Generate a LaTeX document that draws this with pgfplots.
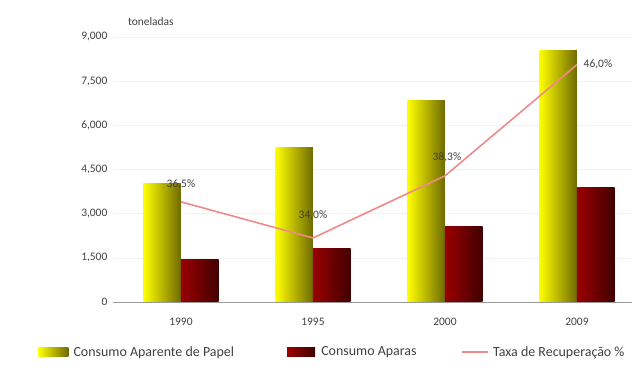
\documentclass[border=0pt]{standalone}
\usepackage{pgfplots}
\usepackage{pgfplotstable}
\pgfplotsset{compat=1.18}
\usepackage{fontspec}
\setmainfont{Carlito}
\definecolor{yelL}{HTML}{FFFF00}
\definecolor{yelM}{HTML}{E6E600}
\definecolor{yelR}{HTML}{6E6A00}
\definecolor{redL}{HTML}{9A0000}
\definecolor{redM}{HTML}{7A0000}
\definecolor{redR}{HTML}{420000}
\definecolor{linec}{HTML}{F08A8A}
\definecolor{txt}{HTML}{404040}

\pgfplotstableread{
x p lab dx dy
0 36.5 36,5\% 0 18
1 34.0 34,0\% 0 23
2 38.3 38,3\% 2 19
3 46.0 46,0\% 21 0
}\ratetable

\begin{document}
\begin{tikzpicture}
\useasboundingbox (0,0) rectangle (636bp,372bp);
\begin{axis}[
  at={(113bp,70bp)}, anchor=south west,
  scale only axis, width=519bp, height=265bp,
  xmin=-0.515, xmax=3.417, ymin=0, ymax=9000,
  clip=false,
  axis x line=bottom, axis y line=left,
  x axis line style={-, draw=gray!80, line width=0.8bp},
  y axis line style={draw=none},
  tick style={draw=none},
  xtick={0,1,2,3}, xticklabels={1990,1995,2000,2009},
  ytick={0,1500,3000,4500,6000,7500,9000},
  yticklabel style={/pgf/number format/1000 sep={,}, /pgf/number format/assume math mode=true},
  tick label style={font=\fontsize{11.5}{13}\selectfont, text=txt},
  xticklabel style={yshift=-10bp},
  ymajorgrids, grid style={gray!10},
  yelbar/.style={ybar, bar width=0.285, bar shift=-0.1425, draw=none, left color=yelL, middle color=yelM, right color=yelR},
  redbar/.style={ybar, bar width=0.285, bar shift=0.1425, draw=none, left color=redL, middle color=redM, right color=redR},
]
\addplot[yelbar] coordinates {(0,4040)};
\addplot[yelbar] coordinates {(1,5260)};
\addplot[yelbar] coordinates {(2,6860)};
\addplot[yelbar] coordinates {(3,8525)};
\addplot[redbar] coordinates {(0,1460)};
\addplot[redbar] coordinates {(1,1800)};
\addplot[redbar] coordinates {(2,2580)};
\addplot[redbar] coordinates {(3,3900)};
\node[font=\fontsize{11.5}{13}\selectfont, text=txt] at (rel axis cs:0.073,1.057) {toneladas};
\end{axis}
\begin{axis}[
  at={(113bp,70bp)}, anchor=south west,
  scale only axis, width=519bp, height=265bp,
  xmin=-0.515, xmax=3.417, ymin=29.57, ymax=47.91,
  axis lines=none, ticks=none, clip=false,
  legend style={at={(-0.150,-0.189)}, anchor=west, draw=none, fill=none,
    font=\fontsize{14}{16}\selectfont, text=txt,
    /tikz/column 2/.style={column sep=51bp},
    /tikz/column 4/.style={column sep=43bp}},
  legend columns=3,
]
\addlegendimage{legend image code/.code={\path[draw=none,left color=yelL,middle color=yelM,right color=yelR] (0bp,-4.5bp) rectangle (30bp,4.5bp); \path (33bp,0bp);}}
\addlegendentry{Consumo Aparente de Papel}
\addlegendimage{legend image code/.code={\path[draw=none,left color=redL,middle color=redM,right color=redR] (0bp,-4.5bp) rectangle (28bp,4.5bp); \path (32bp,0bp);}}
\addlegendentry{Consumo Aparas}
\addplot[linec, line width=1.6bp, sharp plot, no marks,
  point meta=explicit symbolic,
  nodes near coords,
  visualization depends on={\thisrow{dx} \as \mydx},
  visualization depends on={\thisrow{dy} \as \mydy},
  nodes near coords style={anchor=center, xshift=\mydx bp, yshift=\mydy bp, font=\fontsize{11.5}{13}\selectfont, text=txt},
  legend image code/.code={\draw[linec, line width=1.6bp] (0bp,0bp) -- (26bp,0bp); \path (28bp,0bp);}]
  table[x=x, y=p, meta=lab] {\ratetable};
\addlegendentry{Taxa de Recuperação \%}
\end{axis}
\end{tikzpicture}
\end{document}
